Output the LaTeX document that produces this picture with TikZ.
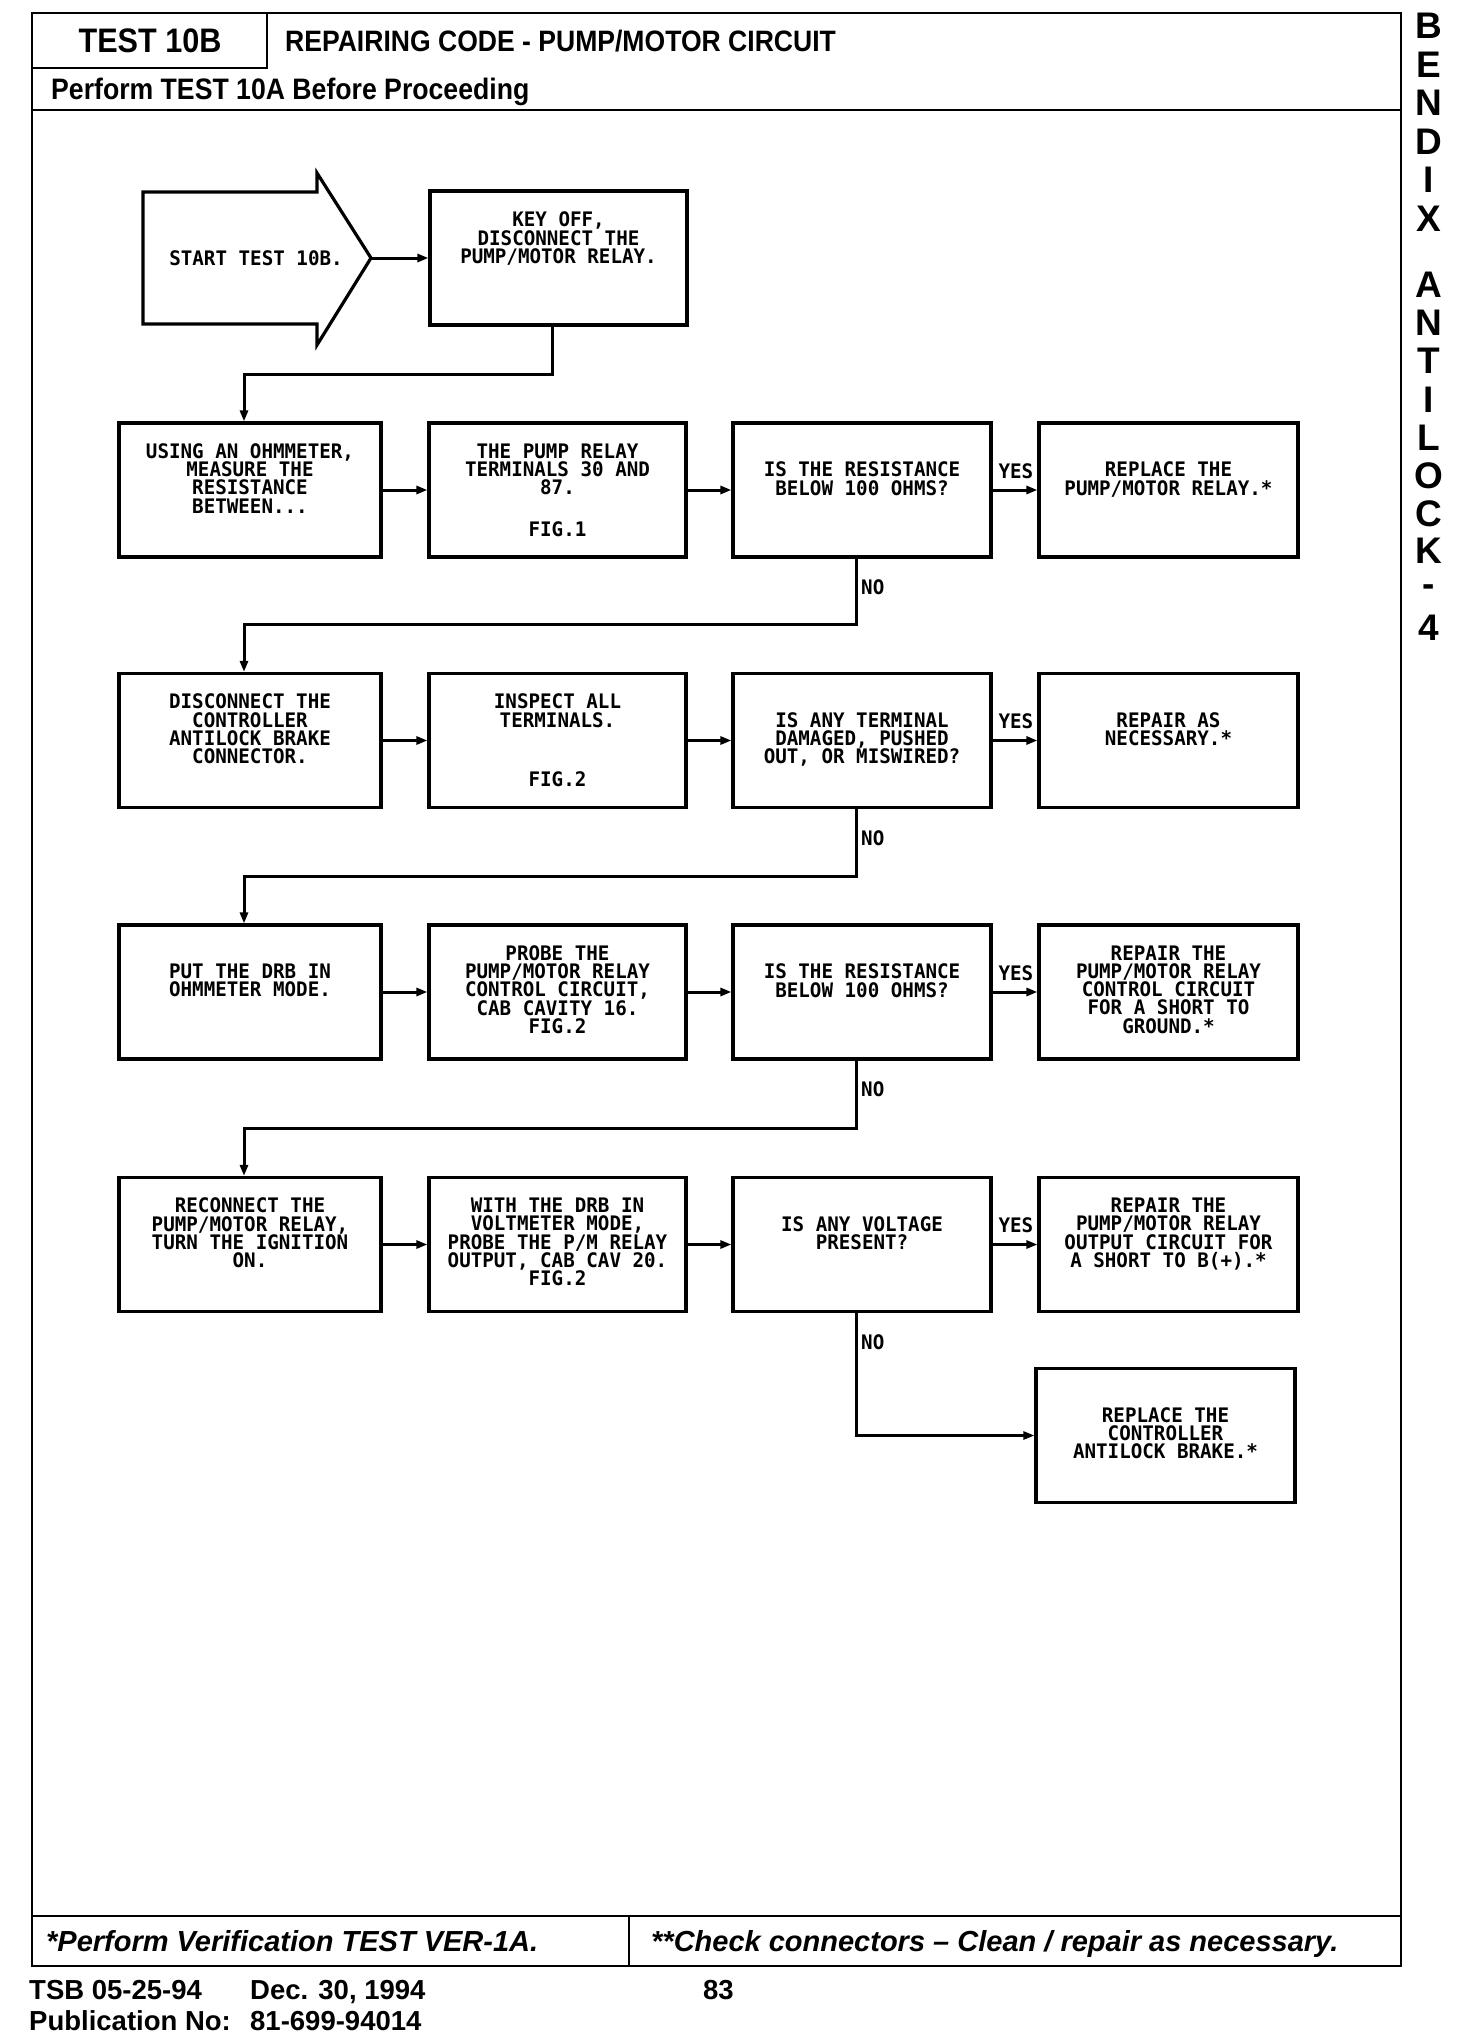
\documentclass[tikz,border=0pt]{standalone}
\usepackage{fontspec}
\usetikzlibrary{arrows.meta,calc}
\newfontfamily\dotfont[FakeStretch=0.96]{DejaVu Sans Mono}
\newfontfamily\hfont{Liberation Sans}
\newfontfamily\hcond[FakeStretch=0.9]{Liberation Sans}
\newcommand{\btext}[3]{\parbox[c][134pt][t]{#1}{\centering\lineskiplimit=-100pt\vspace*{#2}#3}}
\begin{document}
\begin{tikzpicture}[x=1pt,y=-1pt,
  box/.style={draw, line width=3.2pt, inner sep=0pt, font=\dotfont\bfseries\fontsize{20pt}{18.3pt}\selectfont},
  arr/.style={line width=3pt, -{Triangle[length=11pt,width=8pt]}},
  lbl/.style={inner sep=0pt, font=\dotfont\bfseries\fontsize{20pt}{18.3pt}\selectfont},
  frame/.style={line width=2.8pt},
  head/.style={inner sep=0pt, font=\hcond\bfseries\fontsize{#1}{#1}\selectfont},
  page/.style={inner sep=0pt, font=\hfont\bfseries\fontsize{27.5pt}{27.5pt}\selectfont},
  foot/.style={inner sep=0pt, font=\hfont\bfseries\itshape\fontsize{29pt}{29pt}\selectfont},
  side/.style={inner sep=0pt, font=\hfont\bfseries\fontsize{37pt}{37pt}\selectfont}
]
\useasboundingbox (0,0) rectangle (1472,2042);
% frame
\draw[frame] (32,13) rectangle (1401,1966);
\draw[frame] (267,13) -- (267,68) -- (32,68);
\draw[frame] (32,110) -- (1401,110);
\draw[frame] (32,1916) -- (1401,1916);
\draw[frame] (629,1916) -- (629,1966);
% header texts
\node[head=34pt, anchor=center] (t10b) at (150,41) {TEST 10B};
\node[head=29.5pt, anchor=base west] (title) at (285,52) {REPAIRING CODE - PUMP/MOTOR CIRCUIT};
\node[head=29.6pt, anchor=base west] (pre) at (51,99.5) {Perform TEST 10A Before Proceeding};
% side letters
\foreach \ch/\yy [count=\i] in {B/26,E/64.5,N/103,D/141.5,I/180,X/218.5,A/285,N/323,T/361,I/399.5,L/437.5,O/476,C/514,K/551,-/591,4/628}
  \node[side] (s\i) at (1429,\yy) {\ch};
% start arrow
\draw[line width=3.2pt, line join=miter] (143,192) -- (317,192) -- (317,173) -- (371,258) -- (317,345) -- (317,324) -- (143,324) -- cycle;
\node[lbl] (start) at (256,258) {START TEST 10B.};
\coordinate (starttip) at (371,258);
% row 1
\node[box] (keyoff) at (558.5,258) {\btext{257pt}{21pt}{KEY OFF,\\DISCONNECT THE\\PUMP/MOTOR RELAY.}};
% row 2
\node[box] (b21) at (250,490) {\btext{262pt}{20.5pt}{USING AN OHMMETER,\\MEASURE THE\\RESISTANCE\\BETWEEN...}};
\node[box] (b22) at (557.5,490) {\btext{257pt}{20.5pt}{THE PUMP RELAY\\TERMINALS 30 AND\\87.\\[23.6pt]FIG.1}};
\node[box] (b23) at (862,490) {\btext{258pt}{39pt}{IS THE RESISTANCE\\BELOW 100 OHMS?}};
\node[box] (b24) at (1168.5,490) {\btext{259pt}{39pt}{REPLACE THE\\PUMP/MOTOR RELAY.*}};
% row 3
\node[box] (b31) at (250,740.5) {\btext{262pt}{20.5pt}{DISCONNECT THE\\CONTROLLER\\ANTILOCK BRAKE\\CONNECTOR.}};
\node[box] (b32) at (557.5,740.5) {\btext{257pt}{20.5pt}{INSPECT ALL\\TERMINALS.\\[40.9pt]FIG.2}};
\node[box] (b33) at (862,740.5) {\btext{258pt}{39pt}{IS ANY TERMINAL\\DAMAGED, PUSHED\\OUT, OR MISWIRED?}};
\node[box] (b34) at (1168.5,740.5) {\btext{259pt}{39pt}{REPAIR AS\\NECESSARY.*}};
% row 4
\node[box] (b41) at (250,992) {\btext{262pt}{39pt}{PUT THE DRB IN\\OHMMETER MODE.}};
\node[box] (b42) at (557.5,992) {\btext{257pt}{20.5pt}{PROBE THE\\PUMP/MOTOR RELAY\\CONTROL CIRCUIT,\\CAB CAVITY 16.\\FIG.2}};
\node[box] (b43) at (862,992) {\btext{258pt}{39pt}{IS THE RESISTANCE\\BELOW 100 OHMS?}};
\node[box] (b44) at (1168.5,992) {\btext{259pt}{20.5pt}{REPAIR THE\\PUMP/MOTOR RELAY\\CONTROL CIRCUIT\\FOR A SHORT TO\\GROUND.*}};
% row 5
\node[box] (b51) at (250,1244.5) {\btext{262pt}{20.5pt}{RECONNECT THE\\PUMP/MOTOR RELAY,\\TURN THE IGNITION\\ON.}};
\node[box] (b52) at (557.5,1244.5) {\btext{257pt}{20.5pt}{WITH THE DRB IN\\VOLTMETER MODE,\\PROBE THE P/M RELAY\\OUTPUT, CAB CAV 20.\\FIG.2}};
\node[box] (b53) at (862,1244.5) {\btext{258pt}{39pt}{IS ANY VOLTAGE\\PRESENT?}};
\node[box] (b54) at (1168.5,1244.5) {\btext{259pt}{20.5pt}{REPAIR THE\\PUMP/MOTOR RELAY\\OUTPUT CIRCUIT FOR\\A SHORT TO B(+).*}};
% row 6
\node[box] (b64) at (1165.5,1435.5) {\btext{259pt}{39pt}{REPLACE THE\\CONTROLLER\\ANTILOCK BRAKE.*}};
% connectors
\draw[arr] (starttip) -- (keyoff.west);
\draw[arr] ([xshift=-6pt]keyoff.south) -- ++(0,48) -| ([xshift=-6pt]b21.north);
\foreach \r in {2,3,4,5}{
  \draw[arr] (b\r1) -- (b\r2);
  \draw[arr] (b\r2) -- (b\r3);
  \draw[arr] (b\r3) -- (b\r4);
}
\draw[arr] ([xshift=-6pt]b23.south) -- ++(0,66) -| ([xshift=-6pt]b31.north);
\draw[arr] ([xshift=-6pt]b33.south) -- ++(0,67) -| ([xshift=-6pt]b41.north);
\draw[arr] ([xshift=-6pt]b43.south) -- ++(0,68) -| ([xshift=-6pt]b51.north);
\draw[arr] ([xshift=-6pt]b53.south) |- (b64.west);
% labels
\foreach \r in {2,3,4,5}{
  \node[lbl, anchor=base east] (yes\r) at ($(b\r4.west)+(-4,-12)$) {YES};
  \node[lbl, anchor=north west] (no\r) at ($(b\r3.south)+(-1,21)$) {NO};
}
% footer
\node[foot, anchor=base west] (fn1) at (46,1951) {*Perform Verification TEST VER-1A.};
\node[foot, anchor=base west] (fn2) at (651,1951) {**Check connectors – Clean / repair as necessary.};
\node[page, anchor=base west] (tsb) at (29,1999) {TSB 05-25-94};
\node[page, anchor=base west] (dec) at (250,1999) {Dec. 30, 1994};
\node[page, anchor=base west] (pg) at (703,1999) {83};
\node[page, anchor=base west] (pub) at (29,2030) {Publication No:};
\node[page, anchor=base west] (pubno) at (250,2030) {81-699-94014};
\end{tikzpicture}
\end{document}
